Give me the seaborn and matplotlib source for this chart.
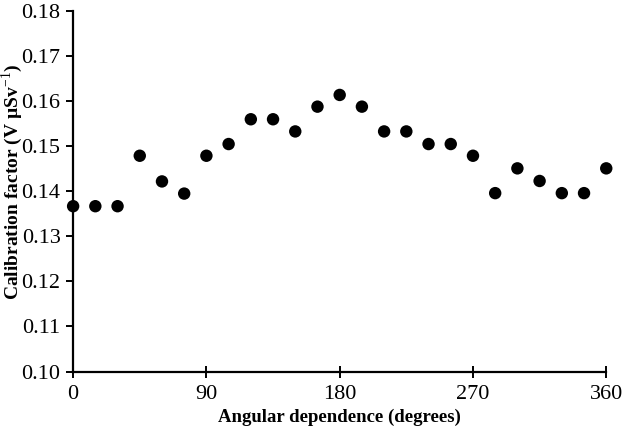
import numpy as np
import pandas as pd
import matplotlib
matplotlib.use("Agg")
import matplotlib.pyplot as plt
import seaborn as sns

# Angle in degrees and calibration factor
angles = [0, 15, 30, 45, 60, 75, 90, 105, 120, 135, 150, 165, 180,
          195, 210, 225, 240, 255, 270, 285, 300, 315, 330, 345, 360]
calibration = [0.1367, 0.1367, 0.1367, 0.1479, 0.1422, 0.1395, 0.1479,
               0.1505, 0.1560, 0.1560, 0.1533, 0.1588, 0.1614, 0.1588,
               0.1533, 0.1533, 0.1505, 0.1505, 0.1479, 0.1396, 0.1451,
               0.1423, 0.1396, 0.1396, 0.1451]
x_ticks = [0, 90, 180, 270, 360]
y_ticks = [0.10, 0.11, 0.12, 0.13, 0.14, 0.15, 0.16, 0.17, 0.18]

df = pd.DataFrame({"angle": angles, "factor": calibration})

sns.set_theme(style="ticks")
plt.rcParams["font.family"] = ["Liberation Serif", "DejaVu Serif"]
plt.rcParams["mathtext.fontset"] = "custom"
plt.rcParams["mathtext.rm"] = "Liberation Serif"
plt.rcParams["mathtext.bf"] = "Liberation Serif:bold"

fig = plt.figure(figsize=(6.25, 4.29), dpi=100)
ax = fig.add_axes([0.117, 0.134, 0.853, 0.840])

sns.scatterplot(data=df, x="angle", y="factor", ax=ax, color="black",
                s=80, edgecolor="none", clip_on=False, zorder=3)

ax.set_xlim(0, 360)
ax.set_ylim(0.10, 0.18)
ax.set_xticks(x_ticks)
ax.set_yticks(y_ticks)
ax.set_yticklabels([f"{v:.2f}" for v in y_ticks])

for s in ["top", "right"]:
    ax.spines[s].set_visible(False)
for s in ["left", "bottom"]:
    ax.spines[s].set_linewidth(1.6)
    ax.spines[s].set_color("black")

ax.tick_params(axis="y", direction="out", length=5, width=1.4,
               labelsize=16, colors="black", pad=4)
ax.tick_params(axis="x", direction="inout", length=8, width=1.4,
               labelsize=16, colors="black", pad=6)

ax.set_xlabel("Angular dependence (degrees)", fontsize=13.5,
              fontweight="bold", labelpad=3, color="black")
ax.set_ylabel(r"Calibration factor (V µSv$^{-1}$)", fontsize=14,
              fontweight="bold", color="black")
ax.yaxis.set_label_coords(-0.09, 0.525)

fig.savefig("out.png", dpi=100)
